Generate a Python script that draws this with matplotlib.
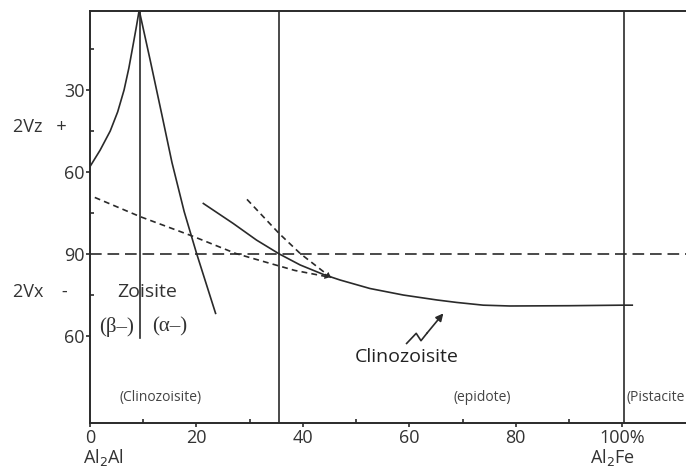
import matplotlib
matplotlib.use('Agg')
import matplotlib.pyplot as plt

plt.rcParams['font.family'] = ['Open Sans', 'DejaVu Sans']

# 2V axis: 0..90 is 2Vz (+), beyond 90 it is 180 - 2Vx (-)
ytick_pos = [30, 60, 90, 120]
ytick_lab = ['30', '60', '90', '60']
xtick_pos = [0, 20, 40, 60, 80, 100]
xtick_lab = ['0', '20', '40', '60', '80', '100%']

# zoisite branches (beta- left, alpha- right)
zo_left_x = [0, 1.9, 3.8, 5.2, 6.4, 7.3, 8.1, 8.7, 9.2]
zo_left_v = [58, 52, 45, 38, 30, 22, 13.5, 7, 1.3]
zo_right_x = [9.3, 11.3, 13.5, 15.4, 17.7, 20.0, 23.6]
zo_right_v = [1.3, 19, 39, 56.5, 74.5, 89.6, 111.7]

# dashed curves
dash_low_x = [0.9, 9.4, 19.2, 27.4, 33.8, 38.5, 45.1]
dash_low_v = [69.3, 76.3, 83.4, 89.8, 93.4, 96.0, 98.5]
dash_up_x = [29.5, 35.5, 39.5, 45.3]
dash_up_v = [70.0, 82.4, 89.8, 98.6]

# clinozoisite - epidote curve
cz_x = [21.3, 26.9, 31.3, 35.6, 39.5, 43.9, 47.0, 52.6, 58.9, 65.2, 68.9,
        73.9, 78.9, 90.0, 100.0, 101.9]
cz_v = [71.5, 78.8, 84.9, 90.0, 94.0, 97.5, 99.5, 102.6, 105.0, 106.8, 107.7,
        108.7, 109.0, 108.9, 108.7, 108.7]

# squiggly pointer
sq_x = [59.5, 61.3, 62.2, 63.3, 66.4]
sq_v = [122.7, 119.0, 121.7, 119.0, 111.7]

col = '#2a2a2a'
lw = 1.2

fig = plt.figure(figsize=(6.86, 4.66), dpi=100)
ax = fig.add_axes([90/686, 43/466, 596/686, 412/466])
ax.set_xlim(0, 112.0)
ax.set_ylim(151.8, 1.1)

ax.spines['right'].set_visible(False)
for s in ['left', 'top', 'bottom']:
    ax.spines[s].set_color(col)
    ax.spines[s].set_linewidth(1.4)

ax.set_yticks(ytick_pos)
ax.set_yticklabels(ytick_lab, fontsize=13, color='#333333')
ax.set_yticks([15, 45, 75, 105], minor=True)
ax.set_xticks(xtick_pos)
ax.set_xticklabels(xtick_lab, fontsize=13, color='#333333')
ax.set_xticks([10, 30, 50, 70, 90], minor=True)
ax.tick_params(which='major', direction='out', length=3, width=1.2, color=col, pad=1)
ax.tick_params(which='minor', direction='in', length=3, width=1.2, color=col)

# vertical boundaries
ax.plot([9.4, 9.4], [1.1, 120.7], color=col, lw=lw)
ax.axvline(35.5, color=col, lw=lw)
ax.axvline(100.3, color=col, lw=lw)
ax.axhline(90, color=col, lw=lw, dashes=(7, 3.5))

ax.plot(zo_left_x, zo_left_v, color=col, lw=lw)
ax.plot(zo_right_x, zo_right_v, color=col, lw=lw)
ax.plot(cz_x, cz_v, color=col, lw=lw)
ax.plot(dash_low_x, dash_low_v, color=col, lw=lw, dashes=(3.5, 2.5))
ax.plot(dash_up_x, dash_up_v, color=col, lw=lw, dashes=(3.5, 2.5))
for xs, vs in [(dash_low_x, dash_low_v), (dash_up_x, dash_up_v)]:
    ax.annotate('', xy=(xs[-1], vs[-1]), xytext=(xs[-2], vs[-2]),
                arrowprops=dict(arrowstyle='-|>', color=col, lw=0,
                                mutation_scale=10, shrinkA=0, shrinkB=0))

ax.plot(sq_x[:-1], sq_v[:-1], color=col, lw=lw)
ax.annotate('', xy=(sq_x[-1], sq_v[-1]), xytext=(sq_x[-2], sq_v[-2]),
            arrowprops=dict(arrowstyle='-|>', color=col, lw=lw,
                            mutation_scale=11, shrinkA=0, shrinkB=0))

# labels
ax.text(10.8, 104, 'Zoisite', fontsize=14, color='#333333', ha='center', va='center')
ax.text(5.0, 116.8, '(β–)', fontsize=15, family='Liberation Serif',
        color='#333333', ha='center', va='center')
ax.text(14.9, 116.8, '(α–)', fontsize=15, family='Liberation Serif',
        color='#333333', ha='center', va='center')
ax.text(59.6, 127.8, 'Clinozoisite', fontsize=14, color='#222222', ha='center', va='center')
ax.text(13.2, 142.3, '(Clinozoisite)', fontsize=10, color='#444444', ha='center', va='center')
ax.text(73.8, 142.3, '(epidote)', fontsize=10, color='#444444', ha='center', va='center')
ax.text(100.8, 142.3, '(Pistacite', fontsize=10, color='#444444', ha='left', va='center')

fig.text(13/686, 1 - 127/466, '2Vz   +', fontsize=13, color='#333333', va='center')
fig.text(13/686, 1 - 292/466, '2Vx    -', fontsize=13, color='#333333', va='center')
fig.text(83/686, 1 - 457/466, 'Al$_2$Al', fontsize=13, color='#333333', va='center')
fig.text(590/686, 1 - 457/466, 'Al$_2$Fe', fontsize=13, color='#333333', va='center')

fig.savefig('out.png', dpi=100, facecolor='white')
